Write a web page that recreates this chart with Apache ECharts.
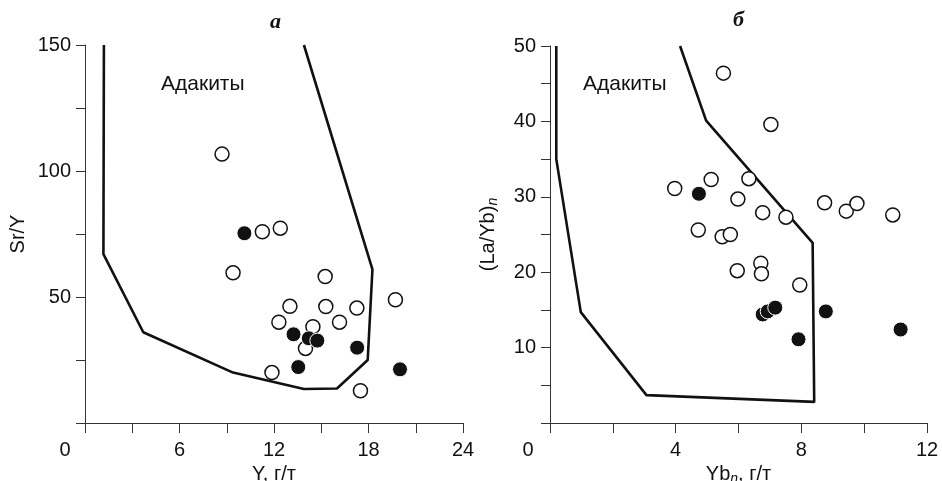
<!DOCTYPE html>
<html>
<head>
<meta charset="utf-8">
<script src="https://cdn.jsdelivr.net/npm/echarts@6/dist/echarts.min.js"></script>
<style>html,body{margin:0;padding:0;background:#fff;overflow:hidden;width:942px;height:481px}#c{width:942px;height:481px}</style>
</head>
<body>
<div id="c"></div>
<script>
// ---- Panel а: Sr/Y vs Y ----
const boundaryA_x = [1.2, 1.17, 3.7, 9.4, 13.9, 16.0, 17.95, 18.25, 13.9];
const boundaryA_y = [150, 67, 36, 20, 13.5, 13.7, 25, 61, 150];
const openA_x = [8.7, 11.26, 12.4, 9.4, 15.25, 13.01, 15.29, 17.26, 19.71, 12.31, 14.47, 16.16, 14.0, 11.87, 17.49];
const openA_y = [106.7, 75.9, 77.3, 59.6, 58.1, 46.3, 46.2, 45.6, 48.9, 40.0, 38.2, 40.0, 29.6, 20.0, 12.8];
const filledA_x = [10.12, 13.24, 14.21, 14.75, 17.28, 13.54, 20.0];
const filledA_y = [75.3, 35.2, 33.6, 32.7, 29.9, 22.2, 21.3];
const xLabelsA = [0, 6, 12, 18, 24];
const yLabelsA = [50, 100, 150];

// ---- Panel б: (La/Yb)n vs Ybn ----
const boundaryB_x = [0.2, 0.2, 0.98, 3.07, 8.41, 8.36, 4.97, 4.14];
const boundaryB_y = [50, 35, 14.7, 3.7, 2.8, 23.9, 40.1, 50];
const openB_x = [5.52, 7.03, 3.97, 5.13, 6.33, 5.98, 6.77, 7.51, 8.74, 9.43, 9.77, 10.91, 4.72, 5.48, 5.74, 5.96, 6.71, 6.73, 7.95];
const openB_y = [46.4, 39.6, 31.1, 32.3, 32.4, 29.7, 27.9, 27.3, 29.2, 28.1, 29.1, 27.6, 25.6, 24.7, 25.0, 20.2, 21.2, 19.8, 18.3];
const filledB_x = [4.74, 6.77, 6.93, 7.17, 8.78, 7.91, 11.16];
const filledB_y = [30.4, 14.4, 14.8, 15.3, 14.8, 11.1, 12.4];
const xLabelsB = [0, 4, 8, 12];
const yLabelsB = [10, 20, 30, 40, 50];

const zip = (xs, ys) => xs.map((x, i) => [x, ys[i]]);
const INK = '#111';
const AX = '#333';
const FONT = 'Liberation Sans, Arial, sans-serif';
const TICK_FS = 20;
const NAME_FS = 20;

function nameStyle() {
  return { color: INK, fontSize: NAME_FS, fontFamily: FONT,
    rich: { t: { color: INK, fontSize: NAME_FS, fontFamily: FONT },
            sub: { color: INK, fontSize: 14, fontStyle: 'italic', fontFamily: FONT, verticalAlign: 'bottom', padding: [9, 0, 0, 0] } } };
}
function xAxisCfg(idx, max, interval, labels, name, zeroPad) {
  return {
    type: 'value', gridIndex: idx, min: 0, max: max, interval: interval,
    name: name, nameLocation: 'middle', nameGap: 33,
    nameTextStyle: nameStyle(),
    axisLine: { lineStyle: { color: AX, width: 1 } },
    axisTick: { inside: false, length: 10, lineStyle: { color: AX } },
    splitLine: { show: false },
    axisLabel: {
      color: INK, fontSize: TICK_FS, fontFamily: FONT, margin: 17,
      formatter: v => (v === 0 ? '{z|0}' : (labels.indexOf(v) >= 0 ? String(v) : '')),
      rich: { z: { color: INK, fontSize: TICK_FS, fontFamily: FONT, padding: [0, zeroPad, 0, 0] } }
    }
  };
}
function yAxisCfg(idx, max, interval, labels, name, gap) {
  return {
    type: 'value', gridIndex: idx, min: 0, max: max, interval: interval,
    name: name, nameLocation: 'middle', nameGap: gap, nameRotate: 90,
    nameTextStyle: nameStyle(),
    axisLine: { show: true, lineStyle: { color: AX, width: 1 } },
    axisTick: { show: true, inside: false, length: 9, lineStyle: { color: AX } },
    splitLine: { show: false },
    axisLabel: {
      color: INK, fontSize: TICK_FS, fontFamily: FONT, margin: 14,
      formatter: v => (labels.indexOf(v) >= 0 ? String(v) : '')
    }
  };
}
function seriesFor(idx, bx, by, ox, oy, fx, fy) {
  return [
    { type: 'line', xAxisIndex: idx, yAxisIndex: idx, data: zip(bx, by), showSymbol: false, symbol: 'none',
      lineStyle: { color: INK, width: 2.6 }, silent: true, z: 2 },
    { type: 'scatter', xAxisIndex: idx, yAxisIndex: idx, data: zip(ox, oy), symbol: 'circle', symbolSize: 14,
      itemStyle: { color: '#fff', borderColor: INK, borderWidth: 1.5, opacity: 1 }, z: 3 },
    { type: 'scatter', xAxisIndex: idx, yAxisIndex: idx, data: zip(fx, fy), symbol: 'circle', symbolSize: 15,
      itemStyle: { color: INK, borderColor: '#fff', borderWidth: 1, opacity: 1 }, z: 4 }
  ];
}

const chart = echarts.init(document.getElementById('c'), null, { renderer: 'canvas', width: 942, height: 481 });
chart.setOption({
  animation: false,
  backgroundColor: '#fff',
  title: [
    { text: 'а', left: 265, top: 6, textStyle: { fontFamily: 'Liberation Serif, DejaVu Serif, serif', fontStyle: 'italic', fontWeight: 'bold', fontSize: 22, color: INK } },
    { text: 'б', left: 728, top: 4, textStyle: { fontFamily: 'Liberation Serif, DejaVu Serif, serif', fontStyle: 'italic', fontWeight: 'bold', fontSize: 22, color: INK } }
  ],
  graphic: [
    { type: 'text', left: 161, top: 74, style: { text: 'Адакиты', font: '21px ' + FONT, fill: INK } },
    { type: 'text', left: 583, top: 74, style: { text: 'Адакиты', font: '21px ' + FONT, fill: INK } }
  ],
  grid: [
    { left: 85, top: 45, width: 378, height: 378, containLabel: false, outerBoundsMode: 'none' },
    { left: 550, top: 46, width: 377, height: 377, containLabel: false, outerBoundsMode: 'none' }
  ],
  xAxis: [
    xAxisCfg(0, 24, 3, xLabelsA, 'Y, г/т', 40),
    xAxisCfg(1, 12, 2, xLabelsB, '{t|Yb}{sub|n}{t|, г/т}', 44)
  ],
  yAxis: [
    yAxisCfg(0, 150, 25, yLabelsA, 'Sr/Y', 57),
    yAxisCfg(1, 50, 5, yLabelsB, '{t|(La/Yb)}{sub|n}', 50)
  ],
  series: [
    ...seriesFor(0, boundaryA_x, boundaryA_y, openA_x, openA_y, filledA_x, filledA_y),
    ...seriesFor(1, boundaryB_x, boundaryB_y, openB_x, openB_y, filledB_x, filledB_y)
  ]
});
</script>
</body>
</html>
